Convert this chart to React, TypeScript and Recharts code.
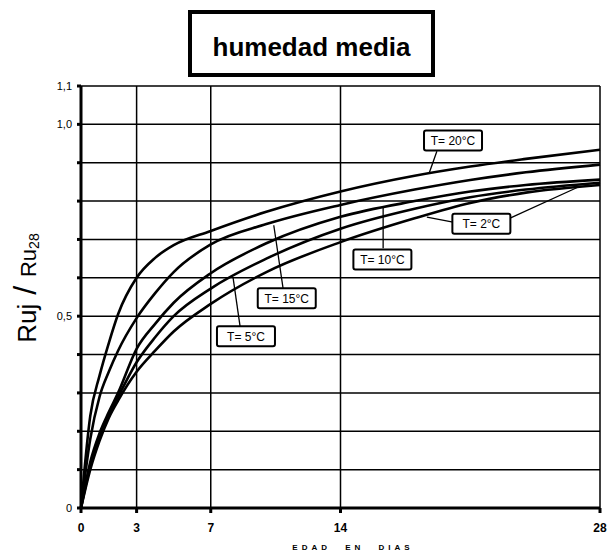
import React from 'react';
import { LineChart, Line, XAxis, YAxis, CartesianGrid, ReferenceLine, ReferenceDot } from 'recharts';

// ---- data ----
const days = [0, 0.5, 1, 1.5, 2, 3, 4, 5, 7, 10, 14, 18, 21, 24, 28];
const t20 = [0, 0.24, 0.345, 0.43, 0.505, 0.6, 0.652, 0.685, 0.722, 0.772, 0.825, 0.866, 0.89, 0.91, 0.934];
const t15 = [0, 0.18, 0.29, 0.355, 0.41, 0.495, 0.56, 0.615, 0.687, 0.74, 0.79, 0.83, 0.855, 0.875, 0.895];
const t10 = [0, 0.12, 0.195, 0.25, 0.3, 0.415, 0.48, 0.535, 0.612, 0.69, 0.759, 0.8, 0.825, 0.842, 0.856];
const t5 = [0, 0.11, 0.185, 0.245, 0.29, 0.38, 0.445, 0.5, 0.572, 0.65, 0.728, 0.78, 0.81, 0.83, 0.848];
const t2 = [0, 0.1, 0.175, 0.235, 0.28, 0.355, 0.41, 0.46, 0.532, 0.615, 0.693, 0.755, 0.795, 0.822, 0.842];

const xTicks = [0, 3, 7, 14, 28];
const yTicks = [0, 0.1, 0.2, 0.3, 0.4, 0.5, 0.6, 0.7, 0.8, 0.9, 1.0, 1.1];
const yLabelValues = [0, 0.5, 1.0, 1.1];
const yLabelTexts = ['0', '0,5', '1,0', '1,1'];

// annotation labels: text, box centre (day, value), leader lines [from, to]
const annLabels = ['T= 20°C', 'T= 15°C', 'T= 10°C', 'T= 5°C', 'T= 2°C'];
const annCenterX = [20.07, 11.1, 16.26, 8.9, 21.6];
const annCenterY = [0.958, 0.547, 0.648, 0.448, 0.741];
const leaderFromX = [19.2, 10.9, 16.3, 8.58, 20.07, 23.12];
const leaderFromY = [0.93, 0.573, 0.677, 0.474, 0.745, 0.755];
const leaderToX = [18.8, 10.4, 16.3, 8.2, 18.66, 26.8];
const leaderToY = [0.875, 0.737, 0.784, 0.602, 0.758, 0.836];

const data = days.map((d, i) => ({ day: d, t20: t20[i], t15: t15[i], t10: t10[i], t5: t5[i], t2: t2[i] }));
const series = ['t20', 't15', 't10', 't5', 't2'];

const FONT = '"Liberation Sans", Arial, sans-serif';

const YTick = (props: any) => {
  const { x, y, payload } = props;
  const i = yLabelValues.findIndex((v) => Math.abs(v - payload.value) < 1e-6);
  if (i < 0) return <g />;
  return (
    <text x={x} y={y} dy={4} textAnchor="end" fontSize={11} fontFamily={FONT} fill="#000">
      {yLabelTexts[i]}
    </text>
  );
};

const XTick = (props: any) => {
  const { x, y, payload } = props;
  return (
    <text x={x} y={y} dy={13} textAnchor="middle" fontSize={12} fontWeight="bold" fontFamily={FONT} fill="#000">
      {payload.value}
    </text>
  );
};

const makeBox = (label: string) => (props: any) => {
  const { cx, cy } = props;
  const w = label.length > 7 ? 64 : 58;
  const h = 20;
  return (
    <g>
      <rect x={cx - w / 2} y={cy - h / 2} width={w} height={h} rx={2} fill="#fff" stroke="#000" strokeWidth={2} />
      <text x={cx} y={cy + 4.5} textAnchor="middle" fontSize={12} fontFamily={FONT} fill="#000">
        {label}
      </text>
    </g>
  );
};

export default function App() {
  return (
    <div style={{ position: 'absolute', left: 0, top: 0, width: 610, height: 555, background: '#fff' }}>
      <LineChart width={610} height={555} data={data} margin={{ top: 86, right: 10, bottom: 7, left: 41 }}>
        <CartesianGrid stroke="#000" strokeWidth={1.5} />
        <XAxis
          dataKey="day"
          type="number"
          domain={[0, 28]}
          ticks={xTicks}
          height={40}
          stroke="#000"
          strokeWidth={3}
          tickSize={5}
          tickMargin={6}
          tick={XTick}
          interval={0}
        />
        <YAxis
          type="number"
          domain={[0, 1.1]}
          ticks={yTicks}
          width={40}
          stroke="#000"
          strokeWidth={3}
          tickSize={4}
          tickMargin={5}
          tick={YTick}
          interval={0}
        />
        {leaderFromX.map((fx, i) => (
          <ReferenceLine
            key={'l' + i}
            segment={[{ x: fx, y: leaderFromY[i] }, { x: leaderToX[i], y: leaderToY[i] }]}
            stroke="#000"
            strokeWidth={1.3}
          />
        ))}
        {series.map((k) => (
          <Line key={k} dataKey={k} type="monotone" stroke="#000" strokeWidth={2.6} dot={false} isAnimationActive={false} />
        ))}
        {annLabels.map((lab, i) => (
          <ReferenceDot key={'a' + i} x={annCenterX[i]} y={annCenterY[i]} r={0} shape={makeBox(lab)} />
        ))}
      </LineChart>
      <svg width={610} height={555} style={{ position: 'absolute', left: 0, top: 0, pointerEvents: 'none' }}>
        <rect x={190} y={12} width={243} height={63} fill="#fff" stroke="#000" strokeWidth={4} />
        <text x={311.5} y={56} textAnchor="middle" fontSize={26} fontWeight="bold" fontFamily={FONT} fill="#000">
          humedad media
        </text>
        <text transform="translate(36,288) rotate(-90)" textAnchor="middle" fontFamily={FONT} fill="#000">
          <tspan fontSize={26}>Ruj</tspan>
          <tspan fontSize={32}> / </tspan>
          <tspan fontSize={22}>Ru</tspan>
          <tspan fontSize={14} dy={3}>28</tspan>
        </text>
        <text x={353} y={550} textAnchor="middle" fontSize={8} fontWeight="bold" fontFamily={FONT} letterSpacing={4} wordSpacing={8} fill="#000">
          EDAD EN DIAS
        </text>
      </svg>
    </div>
  );
}
